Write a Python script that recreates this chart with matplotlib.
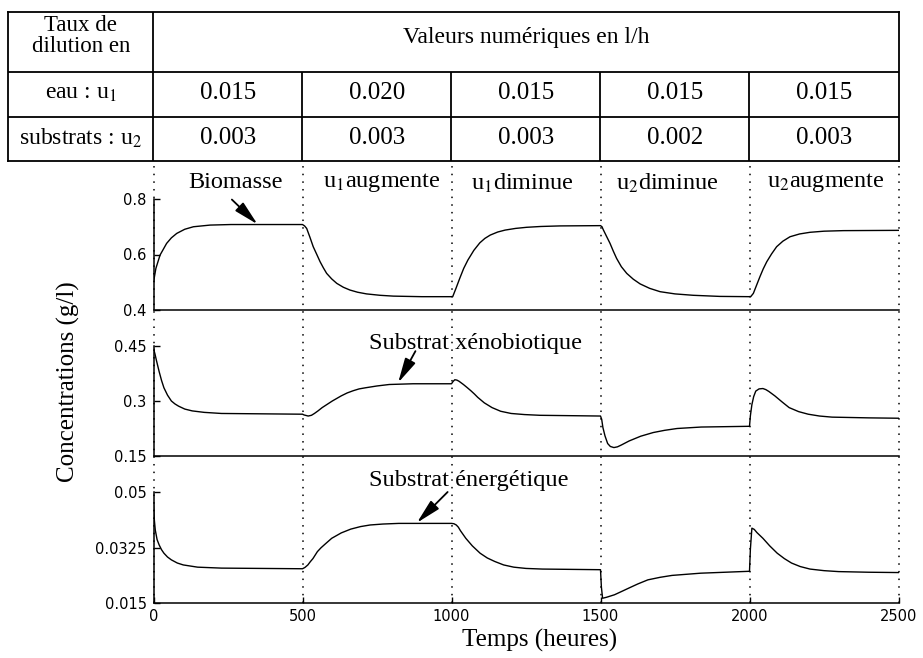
import matplotlib
matplotlib.use("Agg")
import matplotlib.pyplot as plt

plt.rcParams["font.family"] = ["Liberation Serif", "DejaVu Serif"]
plt.rcParams["mathtext.fontset"] = "stix"

# instants de changement de consigne (heures)
switch_times = [0, 500, 1000, 1500, 2000, 2500]

# taux de dilution (l/h) sur chaque intervalle
u1_values = [0.015, 0.020, 0.015, 0.015, 0.015]
u2_values = [0.003, 0.003, 0.003, 0.002, 0.003]

phase_labels = ["Biomasse", "u$_1$augmente", "u$_1$diminue",
                "u$_2$diminue", "u$_2$augmente"]

# biomasse (g/l)
t_bio = [0, 8, 22, 44, 60, 78, 105, 134, 190, 260, 500,
         507, 514, 525, 536, 548, 559, 570, 581, 598, 615, 637, 659, 685, 715, 760, 805, 900, 1004,
         1015, 1028, 1041, 1055, 1075, 1095, 1112, 1130, 1155, 1180, 1215, 1252, 1300, 1364, 1500,
         1505, 1509, 1520, 1532, 1543, 1554, 1570, 1588, 1610, 1633, 1665, 1700, 1750, 1811, 1900, 2004,
         2013, 2024, 2035, 2046, 2058, 2074, 2091, 2112, 2136, 2168, 2203, 2250, 2315, 2500]
c_bio = [0.500, 0.550, 0.598, 0.640, 0.660, 0.676, 0.691, 0.700, 0.706, 0.708, 0.708,
         0.703, 0.694, 0.662, 0.628, 0.600, 0.574, 0.552, 0.532, 0.512, 0.496, 0.482, 0.472, 0.464, 0.458, 0.453, 0.450, 0.448, 0.448,
         0.478, 0.515, 0.550, 0.580, 0.615, 0.642, 0.658, 0.670, 0.681, 0.688, 0.694, 0.698, 0.701, 0.703, 0.704,
         0.700, 0.690, 0.666, 0.640, 0.612, 0.586, 0.556, 0.532, 0.511, 0.494, 0.478, 0.466, 0.458, 0.453, 0.449, 0.448,
         0.460, 0.490, 0.520, 0.548, 0.574, 0.602, 0.628, 0.648, 0.664, 0.674, 0.680, 0.684, 0.686, 0.687]

# substrat xénobiotique (g/l)
t_xeno = [0, 5, 10, 19, 27, 35, 47, 60, 72, 84, 105, 130, 170, 228, 500,
          505, 519, 530, 540, 552, 566, 583, 600, 615, 630, 650, 670, 690, 711, 750, 791, 871, 1000,
          1005, 1011, 1018, 1025, 1040, 1052, 1065, 1077, 1088, 1110, 1136, 1165, 1200, 1245, 1297, 1500,
          1504, 1508, 1515, 1524, 1533, 1545, 1557, 1570, 1596, 1635, 1677, 1715, 1757, 1838, 2000,
          2003, 2008, 2014, 2021, 2032, 2045, 2055, 2065, 2085, 2110, 2133, 2165, 2197, 2235, 2277,
          2400, 2500]
c_xeno = [0.443, 0.428, 0.410, 0.380, 0.356, 0.336, 0.316, 0.300, 0.292, 0.286, 0.278, 0.273, 0.269, 0.266, 0.264,
          0.262, 0.259, 0.261, 0.266, 0.273, 0.282, 0.291, 0.300, 0.307, 0.314, 0.322, 0.328, 0.333, 0.336, 0.341, 0.345, 0.347, 0.347,
          0.353, 0.358, 0.357, 0.354, 0.345, 0.337, 0.328, 0.319, 0.310, 0.295, 0.282, 0.272, 0.266, 0.263, 0.261, 0.259,
          0.250, 0.228, 0.205, 0.184, 0.176, 0.173, 0.175, 0.180, 0.191, 0.204, 0.214, 0.220, 0.225, 0.229, 0.231,
          0.260, 0.290, 0.312, 0.327, 0.333, 0.334, 0.331, 0.326, 0.314, 0.297, 0.282, 0.271, 0.264, 0.259, 0.256,
          0.254, 0.253]

# substrat énergétique (g/l)
t_ener = [0, 3, 6, 12, 19, 27, 35, 47, 60, 80, 100, 148, 228, 500,
          508, 518, 526, 535, 550, 562, 575, 598, 630, 662, 695, 727, 770, 823, 1000,
          1008, 1016, 1023, 1030, 1048, 1070, 1096, 1120, 1145, 1175, 1209, 1250, 1305, 1500,
          1503, 1507, 1520, 1547, 1570, 1595, 1625, 1659, 1700, 1740, 1836, 2000,
          2003, 2008, 2016, 2025, 2045, 2068, 2093, 2117, 2141, 2170, 2203, 2250, 2299,
          2400, 2500]
c_ener = [0.0462, 0.0410, 0.0380, 0.0350, 0.0333, 0.0318, 0.0307, 0.0295, 0.0286, 0.0276, 0.0270, 0.0263, 0.0260, 0.0258,
          0.0262, 0.0270, 0.0280, 0.0290, 0.0312, 0.0324, 0.0335, 0.0354, 0.0371, 0.0383, 0.0391, 0.0396, 0.0399, 0.0401, 0.0401,
          0.0400, 0.0396, 0.0389, 0.0378, 0.0354, 0.0330, 0.0307, 0.0292, 0.0281, 0.0270, 0.0263, 0.0259, 0.0257, 0.0255,
          0.0200, 0.0165, 0.0168, 0.0176, 0.0186, 0.0197, 0.0210, 0.0223, 0.0231, 0.0237, 0.0244, 0.0250,
          0.0320, 0.0386, 0.0382, 0.0372, 0.0354, 0.0330, 0.0307, 0.0290, 0.0276, 0.0265, 0.0257, 0.0252, 0.0249,
          0.0247, 0.0246]

W, H = 923, 658
fig = plt.figure(figsize=(W / 100, H / 100), dpi=100)


def px_box(x0, y0, x1, y1):
    # rectangle en pixels (origine en haut à gauche) -> coordonnées figure
    return [x0 / W, 1 - y1 / H, (x1 - x0) / W, (y1 - y0) / H]


X0, X1 = 153.5, 898.5
TICK_FONT = dict(family="DejaVu Sans", size=10.5)

panels = [
    (px_box(X0, 199, X1, 310), t_bio, c_bio, (0.4, 0.8), [0.4, 0.6, 0.8], ["0.4", "0.6", "0.8"]),
    (px_box(X0, 346, X1, 456), t_xeno, c_xeno, (0.15, 0.45), [0.15, 0.3, 0.45], ["0.15", "0.3", "0.45"]),
    (px_box(X0, 492, X1, 603), t_ener, c_ener, (0.015, 0.05), [0.015, 0.0325, 0.05], ["0.015", "0.0325", "0.05"]),
]

axes = []
for box, t, c, ylim, yt, ytl in panels:
    ax = fig.add_axes(box)
    ax.plot(t, c, color="black", lw=1.0)
    ax.set_xlim(switch_times[0], switch_times[-1])
    ax.set_ylim(*ylim)
    ax.set_yticks(yt)
    ax.set_yticklabels(ytl, fontdict=TICK_FONT)
    ax.spines["top"].set_visible(False)
    ax.spines["right"].set_visible(False)
    for s in ("left", "bottom"):
        ax.spines[s].set_linewidth(1.1)
    ax.tick_params(axis="y", direction="in", length=4, width=1, pad=5)
    ax.tick_params(axis="x", bottom=False, labelbottom=False)
    ax.patch.set_alpha(0)
    axes.append(ax)

ax_bio, ax_xeno, ax_ener = axes
ax_ener.set_xticks(switch_times)
ax_ener.set_xticklabels([str(v) for v in switch_times], fontdict=TICK_FONT)
ax_ener.tick_params(axis="x", bottom=True, labelbottom=True, direction="in",
                    length=4, width=1, pad=4)

# libellés des phases au-dessus de la biomasse
label_pos = [275, 767, 1237, 1723, 2256]
for x, lab in zip(label_pos, phase_labels):
    ax_bio.text(x, 0.858, lab, ha="center", va="center", fontsize=17.5, clip_on=False)

arrow = dict(arrowstyle="-|>,head_length=1.5,head_width=0.35", color="black",
             lw=1.3, shrinkA=0, shrinkB=0)
ax_bio.annotate("", xy=(349, 0.709), xytext=(263, 0.798), arrowprops=arrow,
                annotation_clip=False)

ax_xeno.text(1082, 0.458, "Substrat xénobiotique", ha="center", va="center",
             fontsize=17.5, clip_on=False)
ax_xeno.annotate("", xy=(821, 0.350), xytext=(879, 0.436), arrowprops=arrow,
                 annotation_clip=False)

ax_ener.text(1059, 0.0535, "Substrat énergétique", ha="center", va="center",
             fontsize=17.5, clip_on=False)
ax_ener.annotate("", xy=(884, 0.0403), xytext=(987, 0.0500), arrowprops=arrow,
                 annotation_clip=False)

# traits pointillés verticaux aux changements de consigne
ax_v = fig.add_axes(px_box(X0, 161, X1, 603))
ax_v.set_xlim(switch_times[0], switch_times[-1])
ax_v.set_ylim(0, 1)
ax_v.axis("off")
for ts in switch_times:
    ax_v.axvline(ts, color="black", lw=1.1, linestyle=(0, (1, 4)), clip_on=False)

# tableau des taux de dilution
ax_t = fig.add_axes(px_box(8, 12, X1, 161))
ax_t.set_xlim(-488, switch_times[-1])
ax_t.set_ylim(149, 0)
ax_t.set_xticks([])
ax_t.set_yticks([])
for s in ax_t.spines.values():
    s.set_linewidth(1.3)
ax_t.patch.set_alpha(0)
ax_t.axhline(60, color="black", lw=1.3)
ax_t.axhline(105, color="black", lw=1.3)
ax_t.axvline(0, color="black", lw=1.3)
ax_t.vlines(switch_times[1:-1], 60, 149, color="black", lw=1.3)

col0 = -244
ax_t.text(col0, 24, "Taux de\ndilution en", ha="center", va="center",
          fontsize=16.5, linespacing=1.0)
ax_t.text(1250, 26, "Valeurs numériques en l/h", ha="center", va="center", fontsize=17)
ax_t.text(col0, 81, "eau : u$_1$", ha="center", va="center", fontsize=17)
ax_t.text(col0, 126, "substrats : u$_2$", ha="center", va="center", fontsize=17)
for i in range(len(u1_values)):
    xc = (switch_times[i] + switch_times[i + 1]) / 2
    ax_t.text(xc, 81, f"{u1_values[i]:.3f}", ha="center", va="center", fontsize=18)
    ax_t.text(xc, 126, f"{u2_values[i]:.3f}", ha="center", va="center", fontsize=18)

fig.text(68 / W, 1 - 382 / H, "Concentrations (g/l)", rotation=90,
         ha="center", va="center", fontsize=18)
fig.text(540 / W, 1 - 640 / H, "Temps (heures)", ha="center", va="center", fontsize=18)

fig.savefig("out.png", dpi=100)
